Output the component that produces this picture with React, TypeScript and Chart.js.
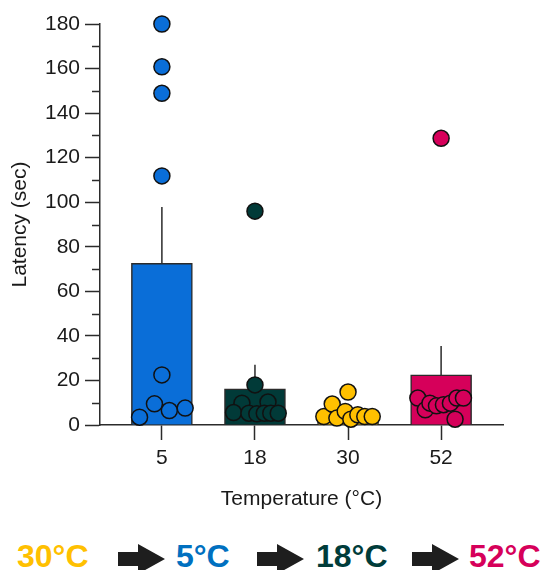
import React, { useEffect, useRef } from 'react';
import { Chart, registerables } from 'chart.js';

Chart.register(...registerables);

// ---- data ----
const categories = ['5', '18', '30', '52'];
const means = [72.6, 16.2, 5.3, 22.5];
const sems = [25.2, 10.8, 1.5, 13.0];
const barColors = ['#0A6ED8', '#013A38', '#FFC000', '#D6005A'];

const pts5 = [180, 160.8, 148.9, 111.8, 22.5, 9.5, 6.5, 7.6, 3.5];
const jit5 = [0, 0, 0, 0, 0, -0.08, 0.08, 0.25, -0.24];
const pts18 = [96, 18, 9.8, 10.3, 5.6, 5.3, 5.0, 5.3, 5.3, 5.3];
const jit18 = [0, 0, -0.14, 0.14, -0.23, -0.065, 0.02, 0.1, 0.17, 0.25];
const pts30 = [3.8, 9.4, 3.1, 6.1, 14.8, 2.6, 4.6, 3.8, 3.8];
const jit30 = [-0.26, -0.17, -0.12, -0.03, 0, 0.03, 0.105, 0.18, 0.26];
const pts52 = [12.1, 6.8, 9.8, 8.6, 9.1, 9.8, 12.1, 12.1, 2.6, 128.7];
const jit52 = [-0.25, -0.17, -0.12, -0.05, 0.025, 0.1, 0.17, 0.24, 0.15, 0];

const groups = [
  { values: pts5, jitter: jit5 },
  { values: pts18, jitter: jit18 },
  { values: pts30, jitter: jit30 },
  { values: pts52, jitter: jit52 },
];

const yMajorStep = 20;
const yMinorTicks = [10, 30, 50, 70, 90, 110, 130, 150, 170];

const sequenceLabels = ['30°C', '5°C', '18°C', '52°C'];
const sequenceColors = ['#FFC000', '#0070C0', '#003C3A', '#D6005A'];

const AXIS = '#2b2b2b';
const TEXT = '#1a1a1a';
const FONT = "'Liberation Sans', Arial, sans-serif";

const decorPlugin = {
  id: 'decor',
  afterDatasetDraw(chart: any, args: any) {
    if (args.index !== 0) return;
    const { ctx, scales } = chart;
    const x = scales.x;
    const y = scales.y;
    ctx.save();
    ctx.strokeStyle = AXIS;
    ctx.lineWidth = 1.5;
    means.forEach((m, i) => {
      const px = x.getPixelForValue(i);
      ctx.beginPath();
      ctx.moveTo(px, y.getPixelForValue(m));
      ctx.lineTo(px, y.getPixelForValue(m + sems[i]));
      ctx.stroke();
    });
    ctx.restore();
  },
  afterDraw(chart: any) {
    const { ctx, scales, chartArea } = chart;
    const y = scales.y;
    ctx.save();
    ctx.strokeStyle = AXIS;
    ctx.lineWidth = 1.5;
    yMinorTicks.forEach((v) => {
      const py = Math.round(y.getPixelForValue(v)) + 0.5;
      ctx.beginPath();
      ctx.moveTo(chartArea.left - 8, py);
      ctx.lineTo(chartArea.left, py);
      ctx.stroke();
    });
    ctx.restore();
  },
};

function ChartView() {
  const ref = useRef<HTMLCanvasElement | null>(null);
  useEffect(() => {
    if (!ref.current) return;
    Chart.defaults.font.family = FONT;
    Chart.defaults.color = TEXT;
    const datasets: any[] = [
      {
        type: 'bar',
        data: means.map((m, i) => ({ x: i, y: m })),
        backgroundColor: barColors,
        borderColor: AXIS,
        borderWidth: 1.5,
        barThickness: 61,
        order: 2,
      },
      ...groups.map((g, i) => ({
        type: 'scatter',
        data: g.values.map((v, j) => ({ x: i + g.jitter[j], y: v })),
        backgroundColor: barColors[i],
        borderColor: '#111',
        borderWidth: 1.5,
        pointRadius: 8,
        pointHoverRadius: 8,
        showLine: false,
        clip: false,
        order: 1,
      })),
    ];
    const chart = new Chart(ref.current, {
      type: 'bar',
      data: { datasets },
      plugins: [decorPlugin],
      options: {
        animation: false,
        responsive: false,
        maintainAspectRatio: false,
        layout: { padding: { top: 24, right: 41, left: 0, bottom: 0 } },
        plugins: { legend: { display: false }, tooltip: { enabled: false } },
        scales: {
          x: {
            type: 'linear',
            offset: false,
            min: -0.665,
            max: 3.665,
            afterBuildTicks: (s: any) => {
              s.ticks = categories.map((_, i) => ({ value: i }));
            },
            afterFit: (s: any) => {
              s.height = 95;
            },
            ticks: {
              autoSkip: false,
              maxRotation: 0,
              padding: 6,
              color: TEXT,
              font: { size: 21 },
              callback: (v: any) => categories[v] ?? '',
            },
            grid: {
              display: true,
              offset: false,
              drawOnChartArea: false,
              drawTicks: true,
              tickLength: 15,
              tickColor: AXIS,
              tickWidth: 1.5,
            },
            border: { display: true, color: AXIS, width: 1.5 },
            title: {
              display: true,
              text: 'Temperature (°C)',
              color: TEXT,
              font: { size: 21 },
              padding: { top: 0, bottom: 8 },
            },
          },
          y: {
            type: 'linear',
            min: 0,
            max: 180,
            afterFit: (s: any) => {
              s.width = 100;
            },
            ticks: {
              stepSize: yMajorStep,
              padding: 5,
              color: TEXT,
              font: { size: 21 },
            },
            grid: {
              display: true,
              drawOnChartArea: false,
              drawTicks: true,
              tickLength: 15,
              tickColor: AXIS,
              tickWidth: 1.5,
            },
            border: { display: true, color: AXIS, width: 1.5 },
            title: {
              display: true,
              text: 'Latency (sec)',
              color: TEXT,
              font: { size: 21 },
              padding: { top: 8, bottom: 0 },
            },
          },
        },
      } as any,
    } as any);
    return () => chart.destroy();
  }, []);
  return <canvas ref={ref} width={544} height={520} style={{ display: 'block' }} />;
}

function Arrow({ left }: { left: number }) {
  return (
    <svg
      width={48}
      height={30}
      style={{ position: 'absolute', left, top: 544 }}
    >
      <polygon points="0,8 20,8 20,0 47,15 20,30 20,22 0,22" fill="#1e1e1e" />
    </svg>
  );
}

const textLefts = [17, 176, 316, 469];
const arrowLefts = [118, 257, 412];

export default function App() {
  return (
    <div
      style={{
        position: 'absolute',
        left: 0,
        top: 0,
        width: 544,
        height: 570,
        background: '#fff',
        overflow: 'hidden',
      }}
    >
      <ChartView />
      {sequenceLabels.map((t, i) => (
        <div
          key={t}
          style={{
            position: 'absolute',
            left: textLefts[i],
            top: 540,
            fontFamily: FONT,
            fontWeight: 'bold',
            fontSize: 32,
            lineHeight: '32px',
            color: sequenceColors[i],
            whiteSpace: 'nowrap',
          }}
        >
          {t}
        </div>
      ))}
      {arrowLefts.map((l) => (
        <Arrow key={l} left={l} />
      ))}
    </div>
  );
}
